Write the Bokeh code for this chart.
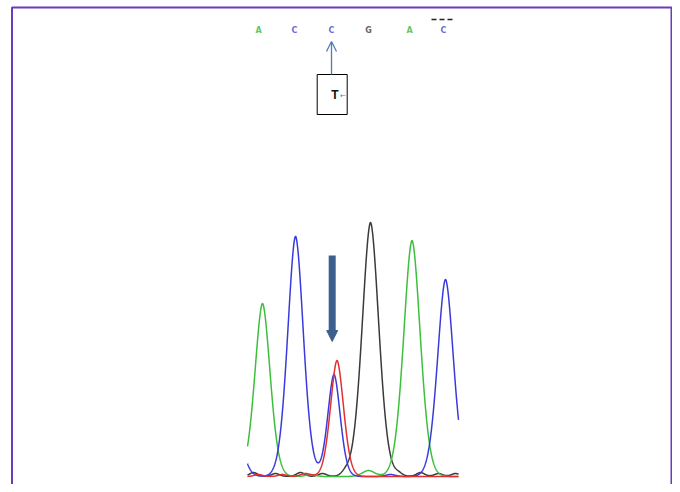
import numpy as np
from bokeh.plotting import figure
from bokeh.models import Range1d, Arrow, OpenHead, NormalHead, ColumnDataSource
from bokeh.core.properties import value
from bokeh.embed import file_html
from bokeh.resources import INLINE

# ---- data (scan position, peak height, peak width) ----
base_calls = ["A", "C", "C", "G", "A", "C"]
base_pos = [258, 294, 331, 368, 409, 443]
base_colors = ["#63c763", "#6b6bd6", "#6b6bd6", "#666666", "#63c763", "#6b6bd6"]

green_centers = [262, 411.5, 368, 310]
green_heights = [173, 236, 6, 2]
green_widths = [11, 12, 9, 7]

blue_centers = [232, 295, 333.5, 445, 300, 390]
blue_heights = [74, 239, 102, 197, 2, 2]
blue_widths = [11, 11.3, 9, 11.5, 7, 7]

black_centers = [370, 253, 275, 300, 322, 345, 398, 420, 438, 455]
black_heights = [254, 4, 3, 4, 3, 4, 3, 4, 3, 3]
black_widths = [12, 6, 6, 6, 6, 6, 6, 6, 6, 6]

red_centers = [336.5, 258, 305, 282]
red_heights = [116, 2, 3, 2]
red_widths = [9.5, 6, 7, 6]

scan_start, scan_end = 247, 458
mutation_pos = 331
mutation_label = "T"

W, H = 672, 484
YB = 475  # baseline anchor

p = figure(width=W, height=H, output_backend="svg", toolbar_location=None,
           x_range=Range1d(0, W), y_range=Range1d(YB - H, YB),
           x_axis_location=None, y_axis_location=None, min_border=0)
p.grid.visible = False
p.outline_line_color = None
p.background_fill_color = "white"

x = np.linspace(scan_start, scan_end, 800)

def trace(centers, heights, widths):
    y = np.zeros_like(x)
    for c, h, a in zip(centers, heights, widths):
        y += h * np.exp(-(np.abs(x - c) / a) ** 1.8)
    return y - 1.0

for cs, hs, bs, col in [
    (black_centers, black_heights, black_widths, "#3a3a3a"),
    (green_centers, green_heights, green_widths, "#3cc03c"),
    (blue_centers, blue_heights, blue_widths, "#3a3adc"),
    (red_centers, red_heights, red_widths, "#e23030"),
]:
    p.line(x, trace(cs, hs, bs), line_color=col, line_width=1.5)

# base calls along the top
src = ColumnDataSource(dict(x=base_pos, y=[YB - 30] * len(base_pos), t=base_calls, c=base_colors))
p.text(x="x", y="y", text="t", text_color="c", source=src, text_align="center",
       text_baseline="middle", text_font=value("DejaVu Sans"), text_font_size="8px",
       text_font_style="bold")

# cut-off marks at top right
p.segment(x0=[431, 439, 447], y0=[YB - 19] * 3, x1=[436, 444, 452], y1=[YB - 19] * 3,
          line_color="#222222", line_width=1.5)

# mutation box with T
p.rect(x=[mutation_pos + 0.7], y=[YB - 94], width=30, height=40,
       fill_color="white", line_color="black", line_width=1)
p.text(x=[mutation_pos + 3.3], y=[YB - 94], text=[mutation_label], text_align="center",
       text_baseline="middle", text_font=value("Liberation Sans"), text_font_size="12px",
       text_font_style="bold", text_color="#111111")
p.text(x=[mutation_pos + 11.5], y=[YB - 95], text=["\u2190"], text_align="center",
       text_baseline="middle", text_font=value("DejaVu Sans"), text_font_size="7px",
       text_color="#5577aa")
p.add_layout(Arrow(x_start=mutation_pos, y_start=YB - 74, x_end=mutation_pos, y_end=YB - 41,
                   line_color="#4f7cb3", line_width=1.3,
                   end=OpenHead(size=10, line_color="#4f7cb3", line_width=1.3)))

# big arrow pointing at the heterozygous peak
p.add_layout(Arrow(x_start=mutation_pos + 0.7, y_start=YB - 255, x_end=mutation_pos + 0.7, y_end=YB - 341,
                   line_color="#3c5f8e", line_width=7,
                   end=NormalHead(size=11, fill_color="#3c5f8e", line_color="#3c5f8e", line_width=1)))

# frame (left, top, right)
p.line([11.5, 11.5, 671, 671], [YB - 500, YB - 7, YB - 7, YB - 500],
       line_color="#6a3db6", line_width=2)

open("out.html", "w").write(file_html(p, INLINE))
